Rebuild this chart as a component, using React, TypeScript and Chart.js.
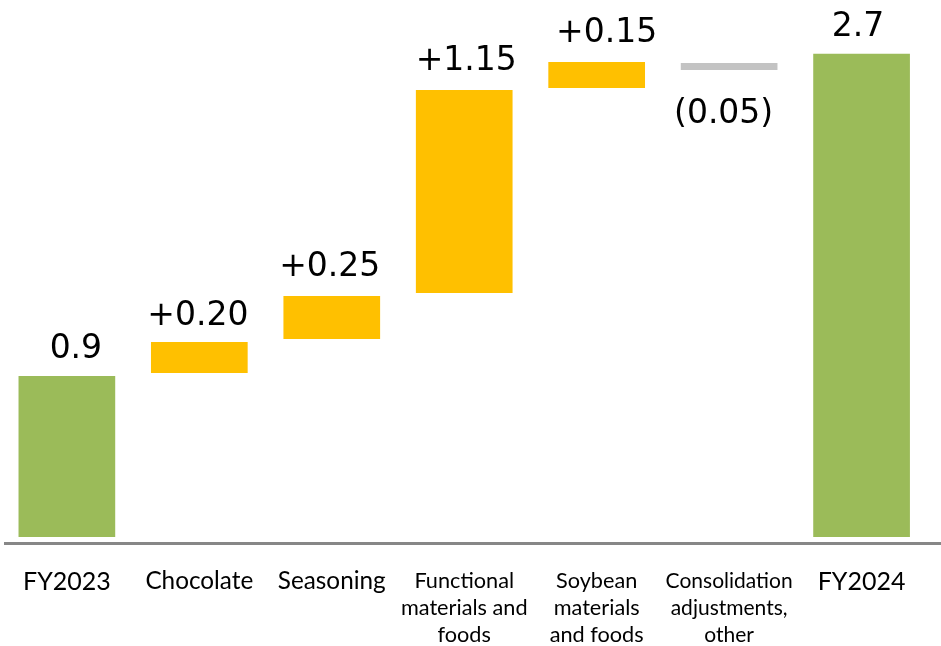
import React, { useEffect, useRef } from "react";
import { Chart, registerables } from "chart.js";

Chart.register(...registerables);

// ---- data ----
const categories: string[][] = [
  ["FY2023"],
  ["Chocolate"],
  ["Seasoning"],
  ["Functional", "materials and", "foods"],
  ["Soybean", "materials", "and foods"],
  ["Consolidation", "adjustments,", "other"],
  ["FY2024"],
];
// floating bar ranges as drawn (start -> end)
const barStart: number[] = [0, 0.916, 1.106, 1.363, 2.508, 2.648, 0];
const barEnd: number[] = [0.9, 1.089, 1.346, 2.497, 2.654, 2.609, 2.7];
const valueLabels: string[] = ["0.9", "+0.20", "+0.25", "+1.15", "+0.15", "(0.05)", "2.7"];
const barKinds: string[] = ["total", "up", "up", "up", "up", "down", "total"];

// ---- styles ----
const kindColors: Record<string, string> = {
  total: "#9BBB59",
  up: "#FFC000",
  down: "#C3C3C3",
};
const labelShiftX = [9, -1.5, -2, 2, 10, -5.5, -3.5];
const labelGap = [18, 17, 20, 20, 20, 53, 18];
const tickFontSizes = [25, 24.3, 24.3, 21.7, 21.7, 21, 25];

const valueLabelPlugin = {
  id: "valueLabels",
  afterDatasetsDraw(chart: any) {
    const meta = chart.getDatasetMeta(0);
    const ctx = chart.ctx;
    ctx.save();
    ctx.font = '33px "DejaVu Sans", Verdana, sans-serif';
    ctx.fillStyle = "#000000";
    ctx.textAlign = "center";
    ctx.textBaseline = "alphabetic";
    meta.data.forEach((el: any, i: number) => {
      const top = Math.min(el.y, el.base);
      const bottom = Math.max(el.y, el.base);
      const x = el.x + labelShiftX[i];
      const y = barEnd[i] < barStart[i] ? bottom + labelGap[i] : top - labelGap[i];
      ctx.fillText(valueLabels[i], x, y);
    });
    ctx.restore();
  },
};

const axisLinePlugin = {
  id: "axisLine",
  afterDatasetsDraw(chart: any) {
    const ctx = chart.ctx;
    const y = chart.chartArea.bottom + 0.5;
    ctx.save();
    ctx.strokeStyle = "#878787";
    ctx.lineWidth = 3;
    ctx.beginPath();
    ctx.moveTo(6, y);
    ctx.lineTo(chart.width, y);
    ctx.stroke();
    ctx.restore();
  },
};

export default function App() {
  const canvasRef = useRef<HTMLCanvasElement | null>(null);

  useEffect(() => {
    if (!canvasRef.current) return;
    const chart = new Chart(canvasRef.current, {
      type: "bar",
      data: {
        labels: categories,
        datasets: [
          {
            data: barStart.map((s, i) => [s, barEnd[i]] as [number, number]),
            backgroundColor: barKinds.map((k) => kindColors[k]),
            borderWidth: 0,
            barPercentage: 0.73,
            categoryPercentage: 1,
          },
        ],
      },
      options: {
        animation: false,
        responsive: false,
        maintainAspectRatio: false,
        layout: { padding: { left: 0, right: 13.2, top: 0, bottom: 0 } },
        plugins: {
          legend: { display: false },
          tooltip: { enabled: false },
        },
        scales: {
          x: {
            grid: { display: false, drawTicks: false },
            border: { display: false },
            afterFit: (scale: any) => {
              scale.height = 103;
            },
            ticks: {
              autoSkip: false,
              maxRotation: 0,
              minRotation: 0,
              padding: 25,
              color: "#000000",
              font: (ctx: any) => {
                const i = ctx.index ?? 0;
                return {
                  family: "Lato, 'Open Sans', sans-serif",
                  size: tickFontSizes[i] ?? 24,
                  lineHeight: "27px",
                };
              },
            },
          },
          y: {
            display: false,
            min: -0.0335,
            max: 3.0,
          },
        },
      },
      plugins: [valueLabelPlugin, axisLinePlugin],
    });
    return () => chart.destroy();
  }, []);

  return (
    <div style={{ position: "fixed", left: 0, top: 0, width: 941, height: 646, overflow: "hidden", background: "#ffffff" }}>
      <div style={{ position: "absolute", left: -2, top: 0, width: 943, height: 646 }}>
        <canvas ref={canvasRef} width={943} height={646} style={{ width: 943, height: 646, display: "block" }} />
      </div>
    </div>
  );
}
